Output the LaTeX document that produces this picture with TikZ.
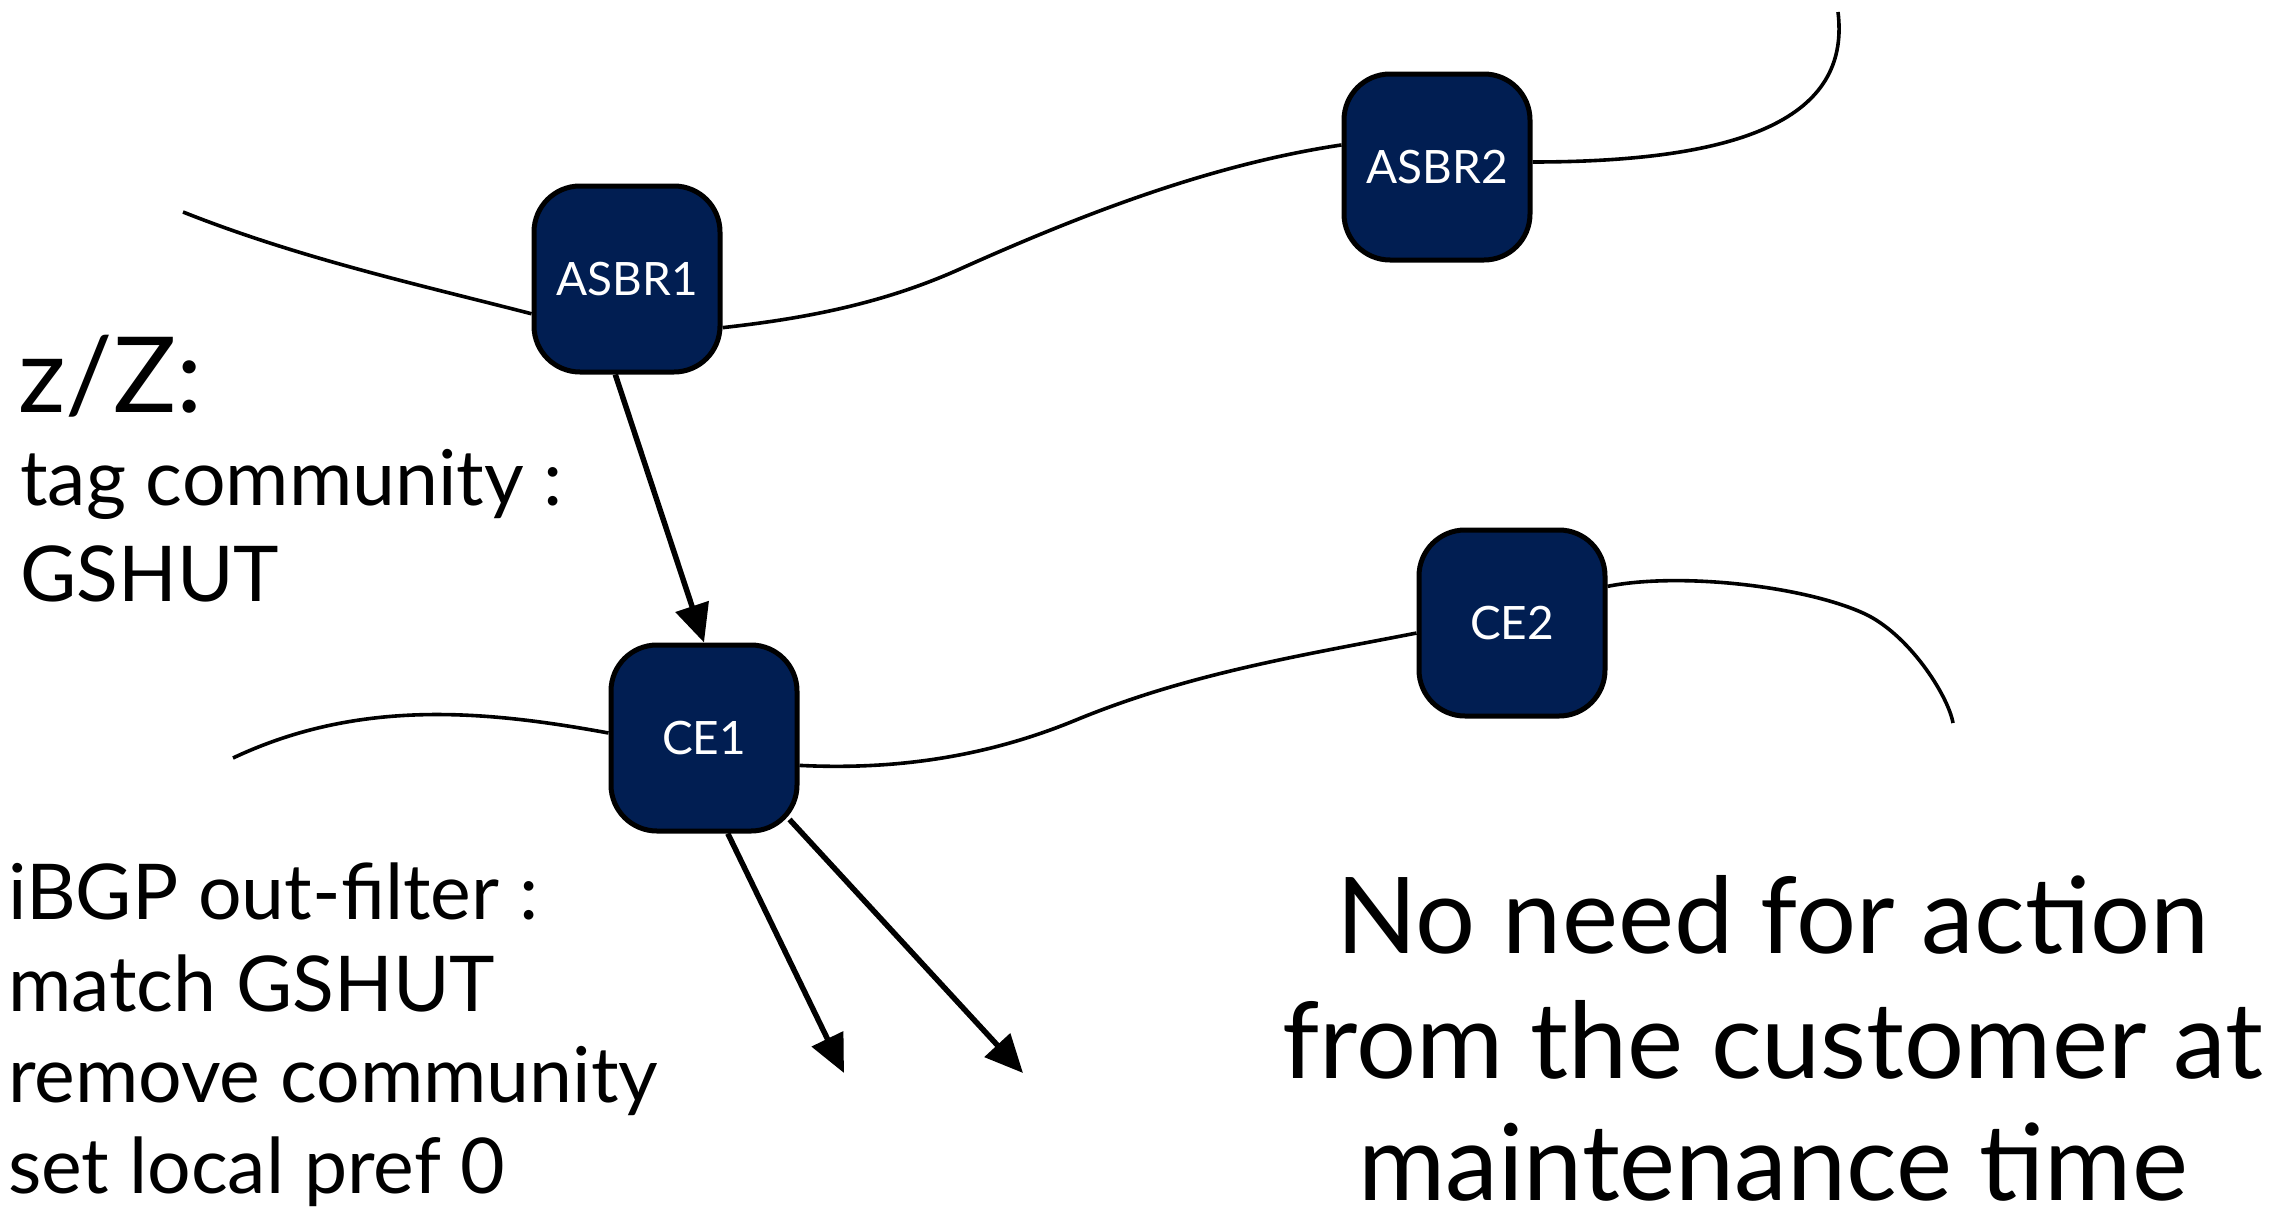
\documentclass[tikz,border=0pt]{standalone}
\usepackage{fontspec}
\setmainfont{Lato}
\usetikzlibrary{arrows.meta}
\definecolor{navy}{RGB}{1,30,82}
\pgfdeclarelayer{bg}
\pgfsetlayers{bg,main}
\begin{document}
\begin{tikzpicture}[x=1pt,y=-1pt,
  box/.style={rectangle, rounded corners=46pt, minimum width=186pt, minimum height=186pt,
    inner sep=0pt, fill=navy, draw=black, line width=5pt, text=white,
    font=\fontsize{46}{50}\selectfont},
  wire/.style={line width=3.6pt},
  arr/.style={line width=5.5pt, -{Triangle[length=38pt,width=34pt]}},
  bigtxt/.style={anchor=base west, inner sep=0pt, font=\fontsize{105}{110}\selectfont},
  lefttxt/.style={anchor=base west, inner sep=0pt, font=\fontsize{77}{90}\selectfont},
  righttxt/.style={anchor=base, inner sep=0pt, font=\fontsize{106}{120}\selectfont}]
\useasboundingbox (0,0) rectangle (2281,1218);

\node[box] (asbr1) at (627,279) {ASBR1};
\node[box] (asbr2) at (1437,167) {ASBR2};
\node[box] (ce1) at (704,738) {CE1};
\node[box] (ce2) at (1512,623) {CE2};

\node[bigtxt] (zz) at (18,412) {z/Z:};
\node[lefttxt] (t1) at (20,505) {tag community :};
\node[lefttxt] (t2) at (20,601) {GSHUT};
\node[lefttxt] (b1) at (8,919) {iBGP out-filter :};
\node[lefttxt] (b2) at (8,1011) {match GSHUT};
\node[lefttxt] (b3) at (8,1102) {remove community};
\node[lefttxt] (b4) at (8,1193) {set local pref 0};
\node[righttxt] (r1) at (1773,953) {No need for action};
\node[righttxt] (r2) at (1773,1078) {from the customer at};
\node[righttxt] (r3) at (1773,1200) {maintenance time};

\begin{pgfonlayer}{bg}
\fill[white] (0,0) rectangle (2281,1218);
\coordinate (e1) at (183,212);
\coordinate (e3) at (1838,12);
\coordinate (e4) at (233,758);
\coordinate (e6) at (1953,723);
\coordinate (tb) at (844,1073);
\coordinate (tc) at (1023,1073);
\draw[wire] (e1) .. controls (299,258) and (416,284) .. (asbr1.200);
\draw[wire] (asbr1.333) .. controls (800,319) and (880,305) .. (960,269)
  .. controls (1087,212) and (1214,164) .. (asbr2.167);
\draw[wire] (asbr2.3) .. controls (1760,162) and (1850,110) .. (e3);
\draw[wire] (e4) .. controls (358,699) and (483,710) .. (ce1.177);
\draw[wire] (ce1.344) .. controls (892,770) and (984,758) .. (1076,720)
  .. controls (1190,673) and (1304,655) .. (ce2.186);
\draw[wire] (ce2.21) .. controls (1680,572) and (1803,586) .. (1863,613)
  .. controls (1908,633) and (1948,695) .. (e6);
\draw[arr] (asbr1.263) -- (ce1.north);
\draw[arr] (ce1.284) -- (tb);
\draw[arr] ([shift={(-10pt,14pt)}]ce1.south east) -- (tc);
\end{pgfonlayer}
\end{tikzpicture}
\end{document}
